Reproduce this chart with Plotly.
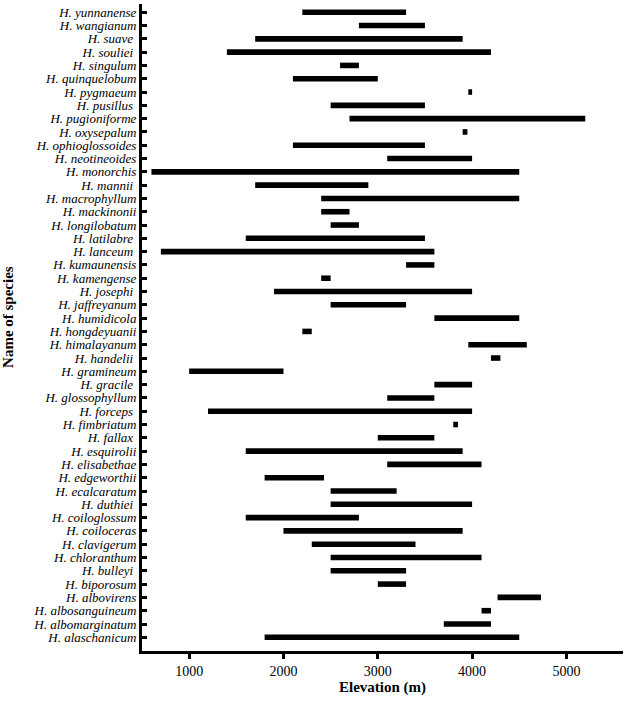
import plotly.graph_objects as go

NB = "\u00a0"
species = [
    "alaschanicum", "albomarginatum", "albosanguineum", "albovirens", "biporosum",
    "bulleyi" + NB, "chloranthum", "clavigerum", "coiloceras", "coiloglossum",
    "duthiei" + NB, "ecalcaratum", "edgeworthii", "elisabethae", "esquirolii",
    "fallax" + NB, "fimbriatum", "forceps" + NB, "glossophyllum", "gracile" + NB,
    "gramineum", "handelii" + NB, "himalayanum", "hongdeyuanii", "humidicola",
    "jaffreyanum", "josephi" + NB, "kamengense", "kumaunensis", "lanceum" + NB,
    "latilabre" + NB, "longilobatum", "mackinonii", "macrophyllum", "mannii" + NB,
    "monorchis", "neotineoides", "ophioglossoides", "oxysepalum", "pugioniforme",
    "pusillus" + NB, "pygmaeum", "quinquelobum", "singulum", "souliei" + NB,
    "suave" + NB, "wangianum", "yunnanense",
]
low = [
    1800, 3700, 4100, 4270, 3000,
    2500, 2500, 2300, 2000, 1600,
    2500, 2500, 1800, 3100, 1600,
    3000, 3800, 1200, 3100, 3600,
    1000, 4200, 3960, 2200, 3600,
    2500, 1900, 2400, 3300, 700,
    1600, 2500, 2400, 2400, 1700,
    600, 3100, 2100, 3900, 2700,
    2500, 3960, 2100, 2600, 1400,
    1700, 2800, 2200,
]
high = [
    4500, 4200, 4200, 4730, 3300,
    3300, 4100, 3400, 3900, 2800,
    4000, 3200, 2430, 4100, 3900,
    3600, 3850, 4000, 3600, 4000,
    2000, 4300, 4580, 2300, 4500,
    3300, 4000, 2500, 3600, 3600,
    3500, 2800, 2700, 4500, 2900,
    4500, 4000, 3500, 3950, 5200,
    3500, 4000, 3000, 2800, 4200,
    3900, 3500, 3300,
]

labels = ["H. " + s for s in species]
widths = [h - l for l, h in zip(low, high)]

fig = go.Figure()
fig.add_trace(go.Bar(
    y=labels, x=widths, base=low, orientation="h",
    marker=dict(color="black", line=dict(width=0)),
    width=0.42,
))

font_family = "Liberation Serif, Times New Roman, serif"
fig.update_layout(
    width=627, height=703,
    margin=dict(l=142, r=4, t=4, b=52),
    paper_bgcolor="white", plot_bgcolor="white",
    showlegend=False,
    font=dict(family=font_family, color="black"),
)
fig.update_xaxes(
    automargin=False,
    range=[500, 5600],
    tickvals=[1000, 2000, 3000, 4000, 5000],
    showgrid=False, zeroline=False,
    showline=True, linewidth=3, linecolor="black",
    ticks="outside", ticklen=5, tickwidth=2.5, tickcolor="black",
    tickfont=dict(family=font_family, size=14, color="black"),
    title=dict(text="<b>Elevation (m)</b>", font=dict(family=font_family, size=15), standoff=2),
)
fig.update_yaxes(
    automargin=False,
    type="category", categoryorder="array", categoryarray=labels,
    tickmode="array", tickvals=labels, ticktext=labels,
    range=[-1.03, 47.62],
    showgrid=False, zeroline=False,
    showline=True, linewidth=3, linecolor="black",
    ticks="inside", ticklen=5, tickwidth=2.5, tickcolor="black",
    tickfont=dict(family=font_family, size=13, color="black", style="italic"),
)
fig.add_annotation(
    text="<b>Name of species</b>", textangle=-90,
    xref="paper", yref="paper", x=-0.279, y=0.516,
    xanchor="center", yanchor="middle", showarrow=False,
    font=dict(family=font_family, size=15, color="black"),
)

fig.write_html(
    "out.html",
    config={"displayModeBar": False},
    post_script="document.body.style.margin='0';document.body.style.padding='0';",
)
